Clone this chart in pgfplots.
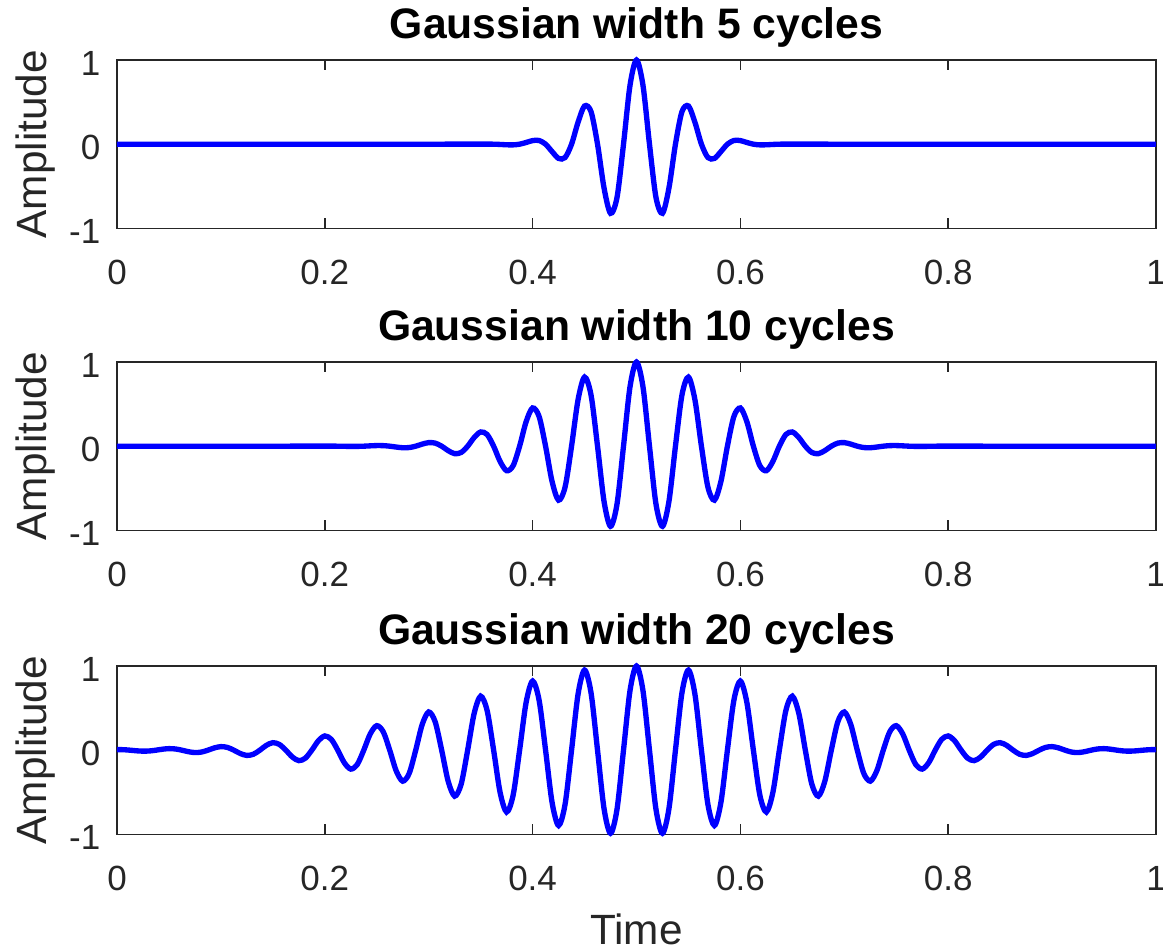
\documentclass[border=0pt]{standalone}
\usepackage{fontspec}
\setmainfont{Liberation Sans}
\usepackage{pgfplots}
\pgfplotsset{compat=1.18}
\usepackage{pgfplotstable}
\definecolor{axgray}{RGB}{38,38,38}

\pgfplotstableread{
t y
0 0
0.1 0
0.15 0
0.2 0.0008
0.20625 0.0008
0.2125 0
0.21875 -0.0014
0.225 -0.0026
0.23125 -0.0024
0.2375 0
0.24375 0.0040
0.25 0.0072
0.25625 0.0065
0.2625 0
0.26875 -0.0104
0.275 -0.0184
0.28125 -0.0162
0.2875 0
0.29375 0.0246
0.3 0.0425
0.30625 0.0365
0.3125 0
0.31875 -0.0529
0.325 -0.0891
0.33125 -0.0746
0.3375 0
0.34375 0.1029
0.35 0.1692
0.35625 0.1383
0.3625 0
0.36875 -0.1815
0.375 -0.2912
0.38125 -0.2322
0.3875 0
0.39375 0.2900
0.4 0.4540
0.40625 0.3533
0.4125 0
0.41875 -0.4199
0.425 -0.6414
0.43125 -0.4868
0.4375 0
0.44375 0.5508
0.45 0.8209
0.45625 0.6079
0.4625 0
0.46875 -0.6546
0.475 -0.9519
0.48125 -0.6877
0.4875 0
0.49375 0.7049
0.5 1
0.50625 0.7049
0.5125 0
0.51875 -0.6877
0.525 -0.9519
0.53125 -0.6546
0.5375 0
0.54375 0.6079
0.55 0.8209
0.55625 0.5508
0.5625 0
0.56875 -0.4868
0.575 -0.6414
0.58125 -0.4199
0.5875 0
0.59375 0.3533
0.6 0.4540
0.60625 0.2900
0.6125 0
0.61875 -0.2322
0.625 -0.2912
0.63125 -0.1815
0.6375 0
0.64375 0.1383
0.65 0.1692
0.65625 0.1029
0.6625 0
0.66875 -0.0746
0.675 -0.0891
0.68125 -0.0529
0.6875 0
0.69375 0.0365
0.7 0.0425
0.70625 0.0246
0.7125 0
0.71875 -0.0162
0.725 -0.0184
0.73125 -0.0104
0.7375 0
0.74375 0.0065
0.75 0.0072
0.75625 0.0040
0.7625 0
0.76875 -0.0024
0.775 -0.0026
0.78125 -0.0014
0.7875 0
0.79375 0.0008
0.8 0.0008
0.85 0
0.9 0
1 0
}\wavten

\pgfplotstableread{
t y
0 0
0.1 0
0.2 0
0.25 0
0.3 0
0.35 0.0008
0.35625 0.0010
0.3625 0
0.36875 -0.0031
0.375 -0.0072
0.38125 -0.0082
0.3875 0
0.39375 0.0200
0.4 0.0425
0.40625 0.0441
0.4125 0
0.41875 -0.0879
0.425 -0.1692
0.43125 -0.1589
0.4375 0
0.44375 0.2603
0.45 0.4540
0.45625 0.3863
0.4625 0
0.46875 -0.5194
0.475 -0.8209
0.48125 -0.6328
0.4875 0
0.49375 0.6984
0.5 1
0.50625 0.6984
0.5125 0
0.51875 -0.6328
0.525 -0.8209
0.53125 -0.5194
0.5375 0
0.54375 0.3863
0.55 0.4540
0.55625 0.2603
0.5625 0
0.56875 -0.1589
0.575 -0.1692
0.58125 -0.0879
0.5875 0
0.59375 0.0441
0.6 0.0425
0.60625 0.0200
0.6125 0
0.61875 -0.0082
0.625 -0.0072
0.63125 -0.0031
0.6375 0
0.64375 0.0010
0.65 0.0008
0.7 0
0.75 0
0.8 0
0.9 0
1 0
}\wavfive

\pgfplotstableread{
t y
0 0.0072
0.00625 0.0057
0.0125 0
0.01875 -0.0073
0.025 -0.0116
0.03125 -0.0092
0.0375 0
0.04375 0.0116
0.05 0.0184
0.05625 0.0145
0.0625 0
0.06875 -0.0180
0.075 -0.0283
0.08125 -0.0222
0.0875 0
0.09375 0.0272
0.1 0.0425
0.10625 0.0331
0.1125 0
0.11875 -0.0401
0.125 -0.0623
0.13125 -0.0483
0.1375 0
0.14375 0.0577
0.15 0.0891
0.15625 0.0686
0.1625 0
0.16875 -0.0811
0.175 -0.1243
0.18125 -0.0952
0.1875 0
0.19375 0.1110
0.2 0.1692
0.20625 0.1288
0.2125 0
0.21875 -0.1484
0.225 -0.2247
0.23125 -0.1699
0.2375 0
0.24375 0.1934
0.25 0.2912
0.25625 0.2188
0.2625 0
0.26875 -0.2461
0.275 -0.3681
0.28125 -0.2750
0.2875 0
0.29375 0.3053
0.3 0.4540
0.30625 0.3370
0.3125 0
0.31875 -0.3697
0.325 -0.5463
0.33125 -0.4030
0.3375 0
0.34375 0.4367
0.35 0.6414
0.35625 0.4703
0.3625 0
0.36875 -0.5033
0.375 -0.7346
0.38125 -0.5353
0.3875 0
0.39375 0.5659
0.4 0.8209
0.40625 0.5945
0.4125 0
0.41875 -0.6207
0.425 -0.8949
0.43125 -0.6441
0.4375 0
0.44375 0.6643
0.45 0.9519
0.45625 0.6809
0.4625 0
0.46875 -0.6936
0.475 -0.9877
0.48125 -0.7022
0.4875 0
0.49375 0.7066
0.5 1
0.50625 0.7066
0.5125 0
0.51875 -0.7022
0.525 -0.9877
0.53125 -0.6936
0.5375 0
0.54375 0.6809
0.55 0.9519
0.55625 0.6643
0.5625 0
0.56875 -0.6441
0.575 -0.8949
0.58125 -0.6207
0.5875 0
0.59375 0.5945
0.6 0.8209
0.60625 0.5659
0.6125 0
0.61875 -0.5353
0.625 -0.7346
0.63125 -0.5033
0.6375 0
0.64375 0.4703
0.65 0.6414
0.65625 0.4367
0.6625 0
0.66875 -0.4030
0.675 -0.5463
0.68125 -0.3697
0.6875 0
0.69375 0.3370
0.7 0.4540
0.70625 0.3053
0.7125 0
0.71875 -0.2750
0.725 -0.3681
0.73125 -0.2461
0.7375 0
0.74375 0.2188
0.75 0.2912
0.75625 0.1934
0.7625 0
0.76875 -0.1699
0.775 -0.2247
0.78125 -0.1484
0.7875 0
0.79375 0.1288
0.8 0.1692
0.80625 0.1110
0.8125 0
0.81875 -0.0952
0.825 -0.1243
0.83125 -0.0811
0.8375 0
0.84375 0.0686
0.85 0.0891
0.85625 0.0577
0.8625 0
0.86875 -0.0483
0.875 -0.0623
0.88125 -0.0401
0.8875 0
0.89375 0.0331
0.9 0.0425
0.90625 0.0272
0.9125 0
0.91875 -0.0222
0.925 -0.0283
0.93125 -0.0180
0.9375 0
0.94375 0.0145
0.95 0.0184
0.95625 0.0116
0.9625 0
0.96875 -0.0092
0.975 -0.0116
0.98125 -0.0073
0.9875 0
0.99375 0.0057
1 0.0072
}\wavtwenty

\pgfplotsset{
  wave/.style={
    scale only axis, width=311.7pt, height=50.5pt,
    xmin=0, xmax=1, ymin=-1, ymax=1,
    xtick={0,0.2,0.4,0.6,0.8,1}, xticklabels={0,0.2,0.4,0.6,0.8,1},
    ytick={-1,0,1}, yticklabels={-1,0,1},
    tick align=inside, major tick length=3.1pt,
    tick style={color=axgray, line width=0.5pt},
    axis line style={color=axgray, line width=0.5pt},
    ticklabel style={font=\fontsize{10.5}{12}\selectfont, text=axgray, inner sep=0pt},
    xticklabel style={anchor=base, yshift=-16.8pt},
    yticklabel style={anchor=base east, xshift=-4.8pt, yshift=-4.65pt},
    title style={font=\bfseries\fontsize{12.8}{14}\selectfont, at={(axis description cs:0.5,1)}, anchor=base, yshift=0.6pt, inner sep=0pt},
    ylabel={Amplitude},
    ylabel style={font=\fontsize{12.7}{14}\selectfont, text=axgray, at={(axis description cs:-0.0683,0.5)}, anchor=base, inner sep=0pt},
    clip=false,
  },
  wline/.style={blue, line width=1.6pt, smooth, no markers},
}

\begin{document}
\begin{tikzpicture}
\path[use as bounding box] (-35.1pt,18pt) rectangle (313.8pt,-267pt);
\begin{axis}[wave, at={(0pt,0pt)}, anchor=north west, title={Gaussian width 5 cycles}]
\addplot[wline] table[x=t,y=y] {\wavfive};
\end{axis}
\begin{axis}[wave, at={(0pt,-90.6pt)}, anchor=north west, title={Gaussian width 10 cycles}]
\addplot[wline] table[x=t,y=y] {\wavten};
\end{axis}
\begin{axis}[wave, at={(0pt,-181.8pt)}, anchor=north west, title={Gaussian width 20 cycles},
  xlabel={Time},
  xlabel style={font=\fontsize{12.7}{14}\selectfont, text=axgray, at={(axis description cs:0.5,0)}, anchor=base, yshift=-33pt, inner sep=0pt}]
\addplot[wline] table[x=t,y=y] {\wavtwenty};
\end{axis}
\end{tikzpicture}
\end{document}
